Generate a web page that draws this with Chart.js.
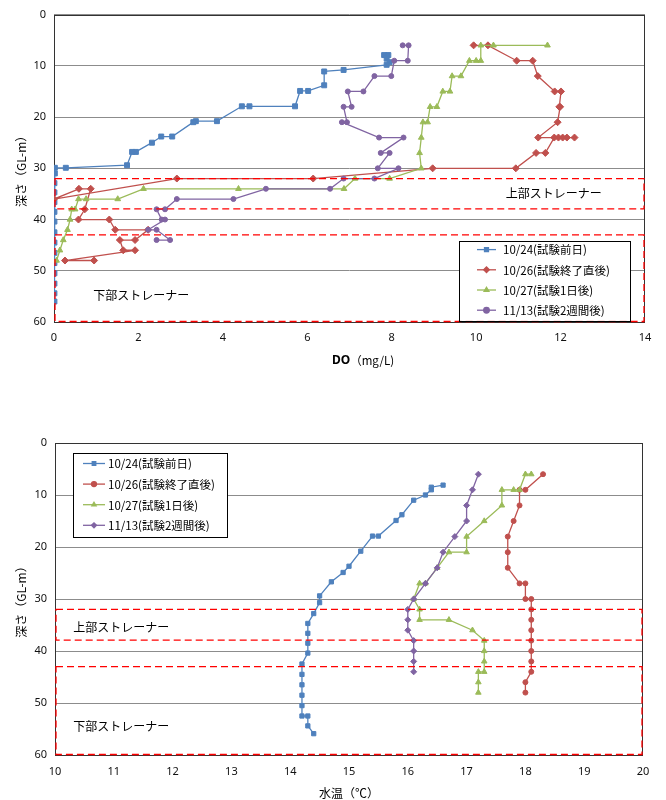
<!DOCTYPE html>
<html>
<head>
<meta charset="utf-8">
<script src="https://cdn.jsdelivr.net/npm/chart.js@4/dist/chart.umd.min.js"></script>
<style>
  html, body { margin: 0; padding: 0; background: #fff; }
  #wrap { position: relative; width: 666px; height: 800px; }
  canvas { position: absolute; left: 0; }
  #doChart { top: 0; }
  #tempChart { top: 420px; }
</style>
</head>
<body>
<div id="wrap">
  <canvas id="doChart" width="666" height="380"></canvas>
  <canvas id="tempChart" width="666" height="380"></canvas>
</div>
<script>
// ---- series names and colours ----
const seriesLabels = ['10/24(試験前日)', '10/26(試験終了直後)', '10/27(試験1日後)', '11/13(試験2週間後)'];
const seriesColors = ['#4F81BD', '#C0504D', '#9BBB59', '#8064A2'];

// ---- dissolved oxygen profiles: depth (GL-m) and DO (mg/L) ----
const doDepth1024 = [7.9, 7.9, 8.6, 9.3, 9.8, 10.8, 11.1, 13.8, 14.9, 14.9, 17.9, 17.9, 17.9, 20.8, 20.8, 21.0, 23.8, 23.8, 25.0, 26.8, 26.8, 29.4, 29.9, 29.9, 31.0, 32.9, 34.7, 36.6, 38.5, 40.4, 42.5, 44.5, 46.5, 48.5, 50.5, 52.5, 54.4, 56.0];
const doValue1024 = [7.82, 7.92, 7.88, 7.95, 7.88, 6.86, 6.40, 6.40, 6.02, 5.83, 5.71, 4.63, 4.45, 3.86, 3.36, 3.30, 2.80, 2.54, 2.32, 1.94, 1.85, 1.73, 0.28, 0.02, 0.02, 0.01, 0.01, 0.01, 0.01, 0.01, 0.01, 0.01, 0.01, 0.01, 0.01, 0.01, 0.01, 0.01];

const doDepth1026 = [6, 6, 9, 9, 12, 15, 15, 18, 18, 21, 24, 24, 24, 24, 24, 24, 27, 27, 30, 30, 32, 32, 36, 34, 34, 38, 40, 40, 42, 42, 44, 44, 46, 46, 48, 48];
const doValue1026 = [9.94, 10.28, 10.96, 11.34, 11.46, 11.86, 12.01, 11.97, 11.99, 11.93, 11.47, 12.33, 12.15, 12.05, 11.95, 11.85, 11.64, 11.42, 10.94, 8.97, 6.14, 2.91, 0.00, 0.59, 0.87, 0.73, 0.58, 1.31, 1.45, 2.23, 1.92, 1.56, 1.64, 1.92, 0.26, 0.95];

const doDepth1027 = [6, 6, 6, 9, 9, 9, 12, 12, 15, 15, 18, 18, 21, 21, 24, 27, 30, 32, 32, 34, 34, 34, 36, 36, 36, 38, 38, 40, 42, 44, 46, 48];
const doValue1027 = [11.69, 10.41, 10.11, 10.11, 10.00, 9.84, 9.64, 9.43, 9.38, 9.21, 9.07, 8.91, 8.85, 8.74, 8.70, 8.66, 8.70, 7.95, 7.13, 6.87, 4.37, 2.12, 1.51, 0.76, 0.58, 0.50, 0.42, 0.38, 0.32, 0.22, 0.14, 0.06];

const doDepth1113 = [6, 6, 9, 9, 12, 12, 15, 15, 18, 18, 21, 21, 24, 24, 27, 27, 30, 30, 32, 32, 34, 34, 36, 36, 38, 38, 40, 40, 42, 42, 44, 44];
const doValue1113 = [8.26, 8.40, 8.38, 8.06, 7.99, 7.59, 7.33, 6.96, 7.05, 6.86, 6.94, 6.82, 7.70, 8.28, 7.74, 7.95, 7.67, 8.16, 7.59, 6.86, 6.54, 5.02, 4.25, 2.91, 2.63, 2.43, 2.55, 2.63, 2.23, 2.43, 2.75, 2.43];

// ---- water temperature profiles: depth (GL-m) and temperature (°C) ----
const tDepth1024 = [8.1, 8.5, 9.0, 10.0, 11.0, 13.8, 14.9, 17.9, 17.9, 20.8, 23.7, 24.9, 26.7, 29.4, 30.7, 32.8, 34.7, 36.6, 38.5, 40.4, 42.5, 44.5, 46.5, 48.5, 50.5, 52.5, 52.5, 54.4, 55.9];
const tValue1024 = [16.6, 16.4, 16.4, 16.3, 16.1, 15.9, 15.8, 15.5, 15.4, 15.2, 15.0, 14.9, 14.7, 14.5, 14.5, 14.4, 14.3, 14.3, 14.3, 14.3, 14.2, 14.2, 14.2, 14.2, 14.2, 14.2, 14.3, 14.3, 14.4];

const tDepth1026 = [6, 9, 9, 12, 15, 18, 21, 24, 27, 27, 30, 30, 32, 34, 36, 38, 40, 42, 44, 46, 48];
const tValue1026 = [18.3, 18.0, 17.9, 17.9, 17.8, 17.7, 17.7, 17.7, 17.9, 18.0, 18.0, 18.1, 18.1, 18.1, 18.1, 18.1, 18.1, 18.1, 18.1, 18.0, 18.0];

const tDepth1027 = [6, 6, 9, 9, 9, 12, 15, 18, 21, 21, 24, 27, 27, 30, 32, 34, 34, 36, 38, 40, 42, 44, 44, 46, 48];
const tValue1027 = [18.1, 18.0, 17.9, 17.8, 17.6, 17.6, 17.3, 17.0, 17.0, 16.7, 16.5, 16.3, 16.2, 16.1, 16.2, 16.2, 16.7, 17.1, 17.3, 17.3, 17.3, 17.3, 17.2, 17.2, 17.2];

const tDepth1113 = [6, 9, 12, 15, 18, 21, 24, 27, 30, 32, 34, 36, 38, 40, 42, 44];
const tValue1113 = [17.2, 17.1, 17.0, 17.0, 16.8, 16.6, 16.5, 16.3, 16.1, 16.0, 16.0, 16.0, 16.1, 16.1, 16.1, 16.1];

// ---- screen (strainer) intervals, depth GL-m ----
const upperStrainer = [32, 38];
const lowerStrainer = [43, 60];
const upperStrainerName = '上部ストレーナー';
const lowerStrainerName = '下部ストレーナー';

// ---- axis ranges ----
const depthRange = [0, 60, 10];
const doRange = [0, 14, 2];
const tempRange = [10, 20, 1];

const JP = '"Noto Sans CJK JP", "Noto Sans", sans-serif';
const NUM = '"Noto Sans", "Liberation Sans", sans-serif';

function toPoints(xs, ys) { return xs.map((v, i) => ({ x: v, y: ys[i] })); }

function makeDataset(i, xs, ys, style, radius) {
  return {
    label: seriesLabels[i],
    data: toPoints(xs, ys),
    showLine: true,
    borderColor: seriesColors[i],
    backgroundColor: seriesColors[i],
    borderWidth: 1.3,
    pointStyle: style,
    pointRadius: radius,
    pointBorderWidth: 1,
    pointBorderColor: seriesColors[i],
    pointBackgroundColor: seriesColors[i],
    tension: 0,
    order: 4 - i
  };
}

// frame, screen boxes, screen names, inset legend and x-axis title
const overlayPlugin = {
  id: 'overlay',
  beforeDatasetsDraw(chart) {
    const { ctx, chartArea: a } = chart;
    ctx.save();
    ctx.strokeStyle = '#333';
    ctx.lineWidth = 1;
    ctx.strokeRect(Math.round(a.left) + 0.5, Math.round(a.top) + 0.5, Math.round(a.width) - 1, Math.round(a.height));
    ctx.restore();
  },
  afterDatasetsDraw(chart, args, o) {
    const { ctx, chartArea: a } = chart;
    const xs = chart.scales.x, ys = chart.scales.y;
    ctx.save();

    // screen intervals as dashed boxes
    ctx.strokeStyle = '#FF0000';
    ctx.lineWidth = 1.3;
    ctx.setLineDash([7, 4]);
    const x0 = xs.getPixelForValue(xs.min) + 1, x1 = xs.getPixelForValue(xs.max) - 1;
    for (const z of [upperStrainer, lowerStrainer]) {
      const y0 = ys.getPixelForValue(z[0]), y1 = ys.getPixelForValue(z[1]) - 0.5;
      ctx.strokeRect(x0, y0, x1 - x0, y1 - y0);
    }
    ctx.setLineDash([]);

    // screen names
    ctx.fillStyle = '#000';
    ctx.font = '12px ' + JP;
    ctx.textAlign = 'left';
    ctx.textBaseline = 'middle';
    ctx.fillText(upperStrainerName, xs.getPixelForValue(o.upperAt[0]), ys.getPixelForValue(o.upperAt[1]));
    ctx.fillText(lowerStrainerName, xs.getPixelForValue(o.lowerAt[0]), ys.getPixelForValue(o.lowerAt[1]));

    // inset legend
    const L = o.legend;
    const bx = L.fromRight ? a.right - L.dx : a.left + L.dx;
    const by = a.top + L.dy;
    ctx.fillStyle = '#fff';
    ctx.fillRect(bx, by, L.w, L.h);
    ctx.strokeStyle = '#000';
    ctx.lineWidth = 1;
    ctx.strokeRect(Math.round(bx) + 0.5, Math.round(by) + 0.5, L.w, L.h);
    ctx.font = L.font + 'px ' + JP;
    chart.data.datasets.forEach((ds, i) => {
      const ry = by + L.firstRow + i * L.rowGap;
      ctx.strokeStyle = ds.borderColor;
      ctx.lineWidth = 1.3;
      ctx.beginPath();
      ctx.moveTo(bx + L.lineFrom, ry);
      ctx.lineTo(bx + L.lineTo, ry);
      ctx.stroke();
      ctx.fillStyle = ds.backgroundColor;
      Chart.helpers.drawPoint(ctx, { pointStyle: ds.pointStyle, radius: L.marker, rotation: 0, borderWidth: 1 },
        bx + (L.lineFrom + L.lineTo) / 2, ry);
      ctx.fillStyle = '#000';
      ctx.textAlign = 'left';
      ctx.textBaseline = 'middle';
      ctx.fillText(ds.label, bx + L.textAt, ry + 0.5);
    });

    // x-axis title (mixed weights)
    const T = o.xTitle;
    ctx.textBaseline = 'middle';
    ctx.textAlign = 'left';
    let total = 0;
    for (const part of T.parts) { ctx.font = part.font; part.w = ctx.measureText(part.text).width; total += part.w; }
    let tx = T.cx - total / 2;
    const ty = a.bottom + T.dy;
    ctx.fillStyle = '#000';
    for (const part of T.parts) { ctx.font = part.font; ctx.fillText(part.text, tx, ty); tx += part.w; }

    ctx.restore();
  }
};

function makeOptions(cfg) {
  return {
    responsive: false,
    animation: false,
    devicePixelRatio: 1,
    layout: { padding: { top: cfg.padTop, right: cfg.padRight, left: 0, bottom: 0 } },
    plugins: {
      legend: { display: false },
      tooltip: { enabled: false },
      overlay: cfg.overlay
    },
    scales: {
      x: {
        type: 'linear',
        position: 'bottom',
        min: cfg.xRange[0], max: cfg.xRange[1],
        ticks: { stepSize: cfg.xRange[2], color: '#111', font: { family: NUM, size: 11 }, padding: cfg.xTickPad },
        grid: { display: false, drawTicks: false },
        border: { display: false },
        afterFit: s => { s.height = cfg.xAxisH; }
      },
      y: {
        type: 'linear',
        reverse: true,
        min: depthRange[0], max: depthRange[1],
        ticks: { stepSize: depthRange[2], color: '#111', font: { family: NUM, size: 11 }, padding: 8 },
        grid: { color: '#8c8c8c', lineWidth: 1, drawTicks: false },
        border: { display: false },
        title: { display: true, text: '深さ（GL-m）', color: '#000', font: { family: JP, size: 12 }, padding: { top: 14, bottom: 0 } },
        afterFit: s => { s.width = cfg.yAxisW; }
      }
    }
  };
}

// ---- DO chart ----
new Chart(document.getElementById('doChart'), {
  type: 'scatter',
  data: {
    datasets: [
      makeDataset(0, doValue1024, doDepth1024, 'rect', 3.5),
      makeDataset(1, doValue1026, doDepth1026, 'rectRot', 3.5),
      makeDataset(2, doValue1027, doDepth1027, 'triangle', 3.3),
      makeDataset(3, doValue1113, doDepth1113, 'circle', 2.5)
    ]
  },
  options: makeOptions({
    padTop: 11, padRight: 21, yAxisW: 54, xAxisH: 58, xTickPad: 9,
    xRange: doRange,
    overlay: {
      upperAt: [10.7, 35.0],
      lowerAt: [0.93, 54.8],
      legend: { fromRight: true, dx: 186, dy: 226, w: 171, h: 80, firstRow: 9, rowGap: 20.2,
                lineFrom: 18, lineTo: 37, textAt: 44, marker: 2.8, font: 11.5 },
      xTitle: { cx: 363, dy: 39, parts: [
        { text: 'DO', font: 'bold 12px ' + NUM },
        { text: '（mg/L)', font: '11.5px ' + JP }
      ] }
    }
  }),
  plugins: [overlayPlugin]
});

// ---- water temperature chart ----
new Chart(document.getElementById('tempChart'), {
  type: 'scatter',
  data: {
    datasets: [
      makeDataset(0, tValue1024, tDepth1024, 'rect', 3.0),
      makeDataset(1, tValue1026, tDepth1026, 'circle', 2.5),
      makeDataset(2, tValue1027, tDepth1027, 'triangle', 3.2),
      makeDataset(3, tValue1113, tDepth1113, 'rectRot', 3.0)
    ]
  },
  options: makeOptions({
    padTop: 23, padRight: 23, yAxisW: 55, xAxisH: 45, xTickPad: 10,
    xRange: tempRange,
    overlay: {
      upperAt: [10.31, 35.4],
      lowerAt: [10.31, 54.6],
      legend: { fromRight: false, dx: 18, dy: 10, w: 154, h: 84, firstRow: 10.5, rowGap: 20.6,
                lineFrom: 10, lineTo: 32, textAt: 35, marker: 2.5, font: 11.5 },
      xTitle: { cx: 349, dy: 38, parts: [
        { text: '水温（℃）', font: '12px ' + JP }
      ] }
    }
  }),
  plugins: [overlayPlugin]
});
</script>
</body>
</html>
